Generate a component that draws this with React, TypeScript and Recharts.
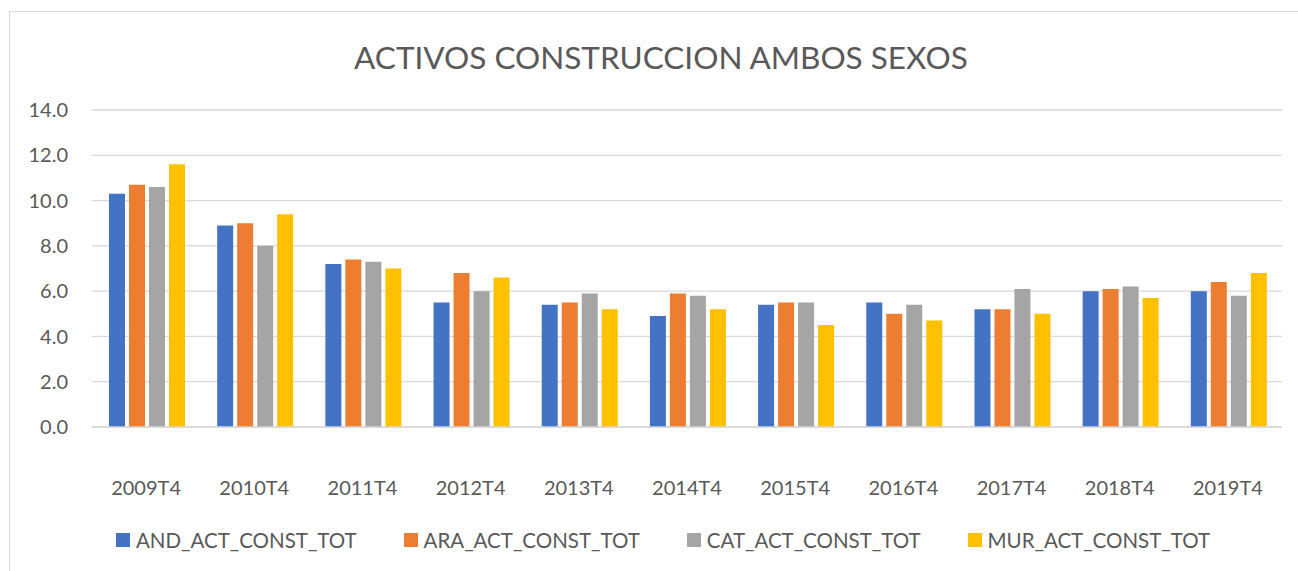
import { BarChart, Bar, XAxis, YAxis, CartesianGrid, Legend } from 'recharts';

const periods = ['2009T4', '2010T4', '2011T4', '2012T4', '2013T4', '2014T4', '2015T4', '2016T4', '2017T4', '2018T4', '2019T4'];
const andValues = [10.3, 8.9, 7.2, 5.5, 5.4, 4.9, 5.4, 5.5, 5.2, 6.0, 6.0];
const araValues = [10.7, 9.0, 7.4, 6.8, 5.5, 5.9, 5.5, 5.0, 5.2, 6.1, 6.4];
const catValues = [10.6, 8.0, 7.3, 6.0, 5.9, 5.8, 5.5, 5.4, 6.1, 6.2, 5.8];
const murValues = [11.6, 9.4, 7.0, 6.6, 5.2, 5.2, 4.5, 4.7, 5.0, 5.7, 6.8];
const yTicks = [0, 2, 4, 6, 8, 10, 12, 14];

const series = [
  { key: 'AND_ACT_CONST_TOT', color: '#4472C4', values: andValues },
  { key: 'ARA_ACT_CONST_TOT', color: '#ED7D31', values: araValues },
  { key: 'CAT_ACT_CONST_TOT', color: '#A5A5A5', values: catValues },
  { key: 'MUR_ACT_CONST_TOT', color: '#FFC000', values: murValues },
];

const data = periods.map((p, i) => {
  const row: Record<string, string | number> = { period: p };
  series.forEach((s) => {
    row[s.key] = s.values[i];
  });
  return row;
});

const FONT = 'Lato, "Noto Sans", sans-serif';
const TEXT = '#595959';

function LegendContent({ payload }: any) {
  return (
    <div style={{ display: 'flex', justifyContent: 'center', gap: 47, fontFamily: FONT, fontSize: 20.5, color: TEXT }}>
      {(payload || []).map((p: any) => (
        <div key={p.value} style={{ display: 'flex', alignItems: 'center', height: 20, lineHeight: '20px' }}>
          <span style={{ width: 14, height: 14, background: p.color, marginRight: 6, display: 'inline-block' }} />
          <span>{p.value}</span>
        </div>
      ))}
    </div>
  );
}

export default function App() {
  return (
    <div style={{ position: 'absolute', left: 0, top: 0, width: 1298, height: 571, background: '#fff', overflow: 'hidden' }}>
      <div
        style={{
          position: 'absolute',
          left: 9,
          top: 11,
          width: 1300,
          height: 600,
          borderTop: '1px solid #D9D9D9',
          borderLeft: '1px solid #D9D9D9',
        }}
      />
      <div
        style={{
          position: 'absolute',
          left: 0,
          width: 1322,
          top: 37,
          textAlign: 'center',
          fontFamily: FONT,
          fontSize: 31.5,
          lineHeight: '40px',
          color: TEXT,
        }}
      >
        ACTIVOS CONSTRUCCION AMBOS SEXOS
      </div>
      <div style={{ position: 'absolute', left: 0, top: 0 }}>
        <BarChart
          width={1298}
          height={571}
          data={data}
          margin={{ top: 110, right: 16, left: 0, bottom: 64 }}
          barCategoryGap={17}
          barGap={4}
        >
          <CartesianGrid vertical={false} stroke="#D9D9D9" strokeWidth={1.3} />
          <XAxis
            dataKey="period"
            height={80}
            tickLine={false}
            tickSize={0}
            tickMargin={54}
            axisLine={{ stroke: '#D9D9D9', strokeWidth: 1.3 }}
            tick={{ fill: TEXT, fontSize: 20, fontFamily: FONT }}
            interval={0}
          />
          <YAxis
            width={92}
            domain={[0, 14]}
            ticks={yTicks}
            axisLine={false}
            tickLine={false}
            tickSize={0}
            tickMargin={24}
            tickFormatter={(v: number) => v.toFixed(1)}
            tick={{ fill: TEXT, fontSize: 20, fontFamily: FONT }}
          />
          <Legend
            layout="horizontal"
            verticalAlign="middle"
            align="center"
            wrapperStyle={{ left: 0, top: 530, width: 1326 }}
            content={<LegendContent />}
          />
          {series.map((s) => (
            <Bar key={s.key} dataKey={s.key} fill={s.color} isAnimationActive={false} />
          ))}
        </BarChart>
      </div>
    </div>
  );
}
